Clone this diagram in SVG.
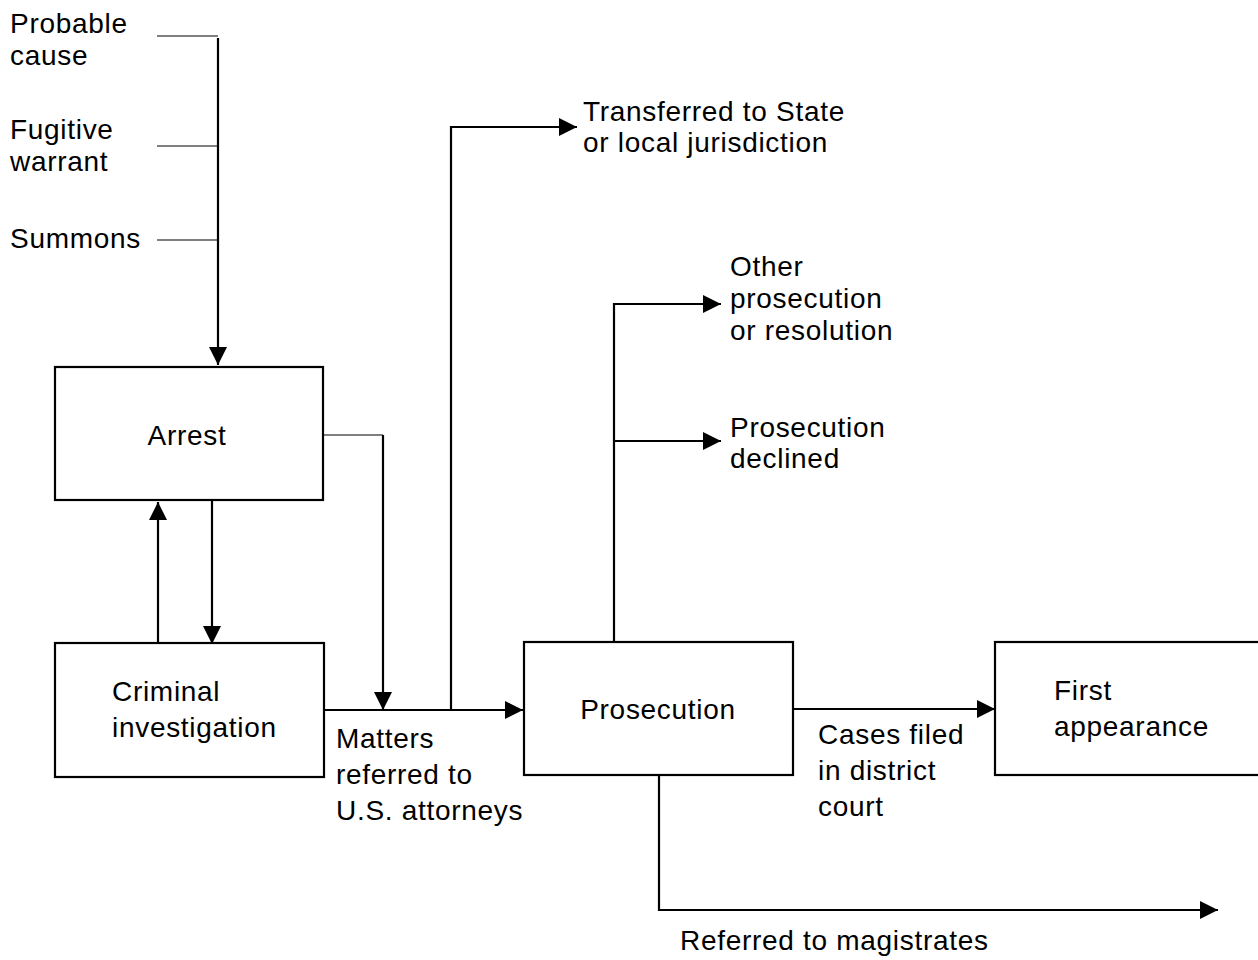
<svg xmlns="http://www.w3.org/2000/svg" width="1258" height="960" viewBox="0 0 1258 960">
<defs>
<marker id="ah" markerWidth="18" markerHeight="18" viewBox="0 0 18 18" refX="18" refY="9" orient="auto" markerUnits="userSpaceOnUse">
<path d="M0,0 L18,9 L0,18 Z" fill="#000"/>
</marker>
<style>
text{font-family:"Liberation Sans",Arial,Helvetica,sans-serif;font-size:28px;letter-spacing:0.7px;fill:#000}
.box{fill:#fff;stroke:#000;stroke-width:2.2}
.c{fill:none;stroke:#000;stroke-width:2.2}
.ca{fill:none;stroke:#000;stroke-width:2.2;marker-end:url(#ah)}
.t{fill:none;stroke:#000;stroke-width:1.2}
</style>
</defs>
<rect width="1258" height="960" fill="#fff"/>
<g id="inputs">
<text x="10" y="33">Probable</text>
<text x="10" y="65">cause</text>
<text x="10" y="139">Fugitive</text>
<text x="10" y="171">warrant</text>
<text x="10" y="248">Summons</text>
</g>
<g id="connectors">
<line class="t" x1="157" y1="36" x2="218" y2="36"/>
<line class="t" x1="157" y1="146" x2="218" y2="146"/>
<line class="t" x1="157" y1="240" x2="218" y2="240"/>
<line class="ca" x1="218" y1="38" x2="218" y2="365"/>
<line class="ca" x1="158" y1="643" x2="158" y2="502"/>
<line class="ca" x1="212" y1="500" x2="212" y2="644"/>
<line class="t" x1="323" y1="435" x2="383" y2="435"/>
<line class="ca" x1="383" y1="435" x2="383" y2="710"/>
<line class="ca" x1="324" y1="710" x2="523" y2="710"/>
<polyline class="ca" points="451,710 451,127 577,127"/>
<polyline class="ca" points="614,642 614,304 721,304"/>
<line class="ca" x1="614" y1="441" x2="721" y2="441"/>
<line class="ca" x1="793" y1="709" x2="995" y2="709"/>
<polyline class="ca" points="659,775 659,910 1218,910"/>
</g>
<g id="arrest">
<rect class="box" x="55" y="367" width="268" height="133"/>
<text x="187" y="445" text-anchor="middle">Arrest</text>
</g>
<g id="criminal-investigation">
<rect class="box" x="55" y="643" width="269" height="134"/>
<text x="112" y="701">Criminal</text>
<text x="112" y="737">investigation</text>
</g>
<g id="prosecution">
<rect class="box" x="524" y="642" width="269" height="133"/>
<text x="658" y="719" text-anchor="middle">Prosecution</text>
</g>
<g id="first-appearance">
<rect class="box" x="995" y="642" width="275" height="133"/>
<text x="1054" y="700">First</text>
<text x="1054" y="736">appearance</text>
</g>
<g id="labels">
<text x="583" y="121">Transferred to State</text>
<text x="583" y="152">or local jurisdiction</text>
<text x="730" y="276">Other</text>
<text x="730" y="308">prosecution</text>
<text x="730" y="340">or resolution</text>
<text x="730" y="437">Prosecution</text>
<text x="730" y="468">declined</text>
<text x="336" y="748">Matters</text>
<text x="336" y="784">referred to</text>
<text x="336" y="820">U.S. attorneys</text>
<text x="818" y="744">Cases filed</text>
<text x="818" y="780">in district</text>
<text x="818" y="816">court</text>
<text x="680" y="950">Referred to magistrates</text>
</g>
</svg>
